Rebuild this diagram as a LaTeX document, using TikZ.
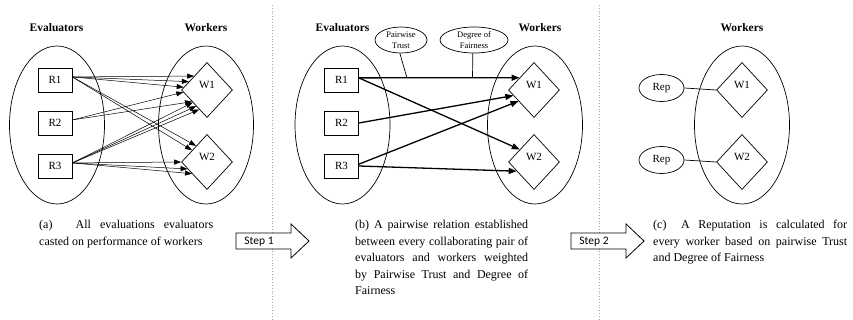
\documentclass[tikz,border=0pt]{standalone}
\usepackage{fontspec}
\setmainfont{Liberation Serif}
\newfontfamily\stepfont{Carlito}
\usetikzlibrary{arrows.meta,shapes.geometric,calc}
\begin{document}
\begin{tikzpicture}[x=1pt,y=-1pt,
 grp/.style={draw,ellipse,minimum width=95pt,minimum height=158pt,inner sep=0pt,line width=0.7pt},
 rbox/.style={draw,rectangle,minimum width=34pt,minimum height=24pt,inner sep=0pt,line width=0.7pt,font=\fontsize{11}{13}\selectfont},
 wdia/.style={draw,diamond,aspect=0.93,minimum width=51pt,minimum height=55pt,inner sep=0pt,line width=0.7pt,text height=8pt,text depth=10.5pt,font=\fontsize{11}{13}\selectfont},
 hdr/.style={font=\fontsize{11.5}{14}\selectfont\bfseries,inner sep=0pt},
 thinarr/.style={line width=0.5pt,-{Triangle[length=7pt,width=5pt]}},
 thickarr/.style={line width=1.3pt,-{Triangle[length=8pt,width=6pt]}},
 note/.style={draw,ellipse,inner sep=0pt,line width=0.7pt,align=center,font=\fontsize{8.5}{10.5}\selectfont},
 rep/.style={draw,ellipse,minimum width=45pt,minimum height=27pt,inner sep=0pt,line width=0.7pt,font=\fontsize{11}{13}\selectfont},
 captext/.style={anchor=base west,inner sep=0pt,font=\fontsize{12}{16.5}\selectfont},
 sepline/.style={black!35,dotted,line width=0.8pt},
 stepshape/.style={draw,line width=0.8pt,fill=white},
 steptext/.style={inner sep=0pt,font=\stepfont\fontsize{11.5}{13}\selectfont},
 plain/.style={line width=0.7pt},
]
\useasboundingbox (0,0) rectangle (853,320);

% separators
\coordinate (s1t) at (272,5); \coordinate (s1b) at (272,320);
\coordinate (s2t) at (599,5); \coordinate (s2b) at (599,320);
\draw[sepline] (s1t) -- (s1b);
\draw[sepline] (s2t) -- (s2b);

% ---------- panel (a)
\node[hdr] (Ea) at (56.5,28) {Evaluators};
\node[hdr] (Wa) at (206,28) {Workers};
\node[grp] (Ga) at (57,125) {};
\node[grp] (Ha) at (206,125) {};
\node[rbox] (R1a) at (55,80) {R1};
\node[rbox] (R2a) at (55,123) {R2};
\node[rbox] (R3a) at (55,166) {R3};
\node[wdia] (W1a) at (207,90) {W1};
\node[wdia] (W2a) at (207,162) {W2};

\draw[thinarr] (R1a.10) -- ($(W1a.west)!0.5!(W1a.north)$);
\draw[thinarr] (R1a.10) -- ($(W1a.west)!0.3!(W1a.north)$);
\draw[thinarr] (R1a.10) -- ($(W1a.west)!0.1!(W1a.north)$);
\draw[thinarr] (R1a.10) -- ($(W2a.west)!0.42!(W2a.north)$);
\draw[thinarr] (R1a.10) -- ($(W2a.west)!0.58!(W2a.north)$);
\draw[thinarr] (R2a.10) -- ($(W1a.west)!0.08!(W1a.south)$);
\draw[thinarr] (R2a.10) -- ($(W1a.west)!0.42!(W1a.south)$);
\draw[thinarr] (R3a.10) -- ($(W1a.west)!0.45!(W1a.south)$);
\draw[thinarr] (R3a.10) -- ($(W1a.west)!0.58!(W1a.south)$);
\draw[thinarr] (R3a.10) -- ($(W1a.west)!0.7!(W1a.south)$);
\draw[thinarr] (R3a.10) -- (W2a.west);
\draw[thinarr] (R3a.10) -- ($(W2a.west)!0.25!(W2a.south)$);
\draw[thinarr] (R3a.10) -- ($(W2a.west)!0.42!(W2a.south)$);

\node[captext] (capa) at (39,229) {\parbox[t]{174pt}{\makebox[174pt][s]{(a)\hspace{14pt} All evaluations evaluators}\\casted on performance of workers}};

% step 1
\coordinate (st1a) at (236,233); \coordinate (st1b) at (291,233); \coordinate (st1c) at (291,224);
\coordinate (st1d) at (309,241); \coordinate (st1e) at (291,258); \coordinate (st1f) at (291,249);
\coordinate (st1g) at (236,249);
\draw[stepshape] (st1a) -- (st1b) -- (st1c) -- (st1d) -- (st1e) -- (st1f) -- (st1g) -- cycle;
\node[steptext] (step1) at (259,242) {Step 1};

% ---------- panel (b)
\node[hdr] (Eb) at (342.5,28) {Evaluators};
\node[hdr] (Wb) at (540,28) {Workers};
\node[grp] (Gb) at (342.5,125) {};
\node[grp] (Hb) at (535,125) {};
\node[rbox] (R1b) at (341.5,80) {R1};
\node[rbox] (R2b) at (341.5,123) {R2};
\node[rbox] (R3b) at (341.5,166) {R3};
\node[wdia] (W1b) at (534,90) {W1};
\node[wdia] (W2b) at (534,162) {W2};
\node[note,minimum width=52pt,minimum height=26pt] (PT) at (401,40) {Pairwise\\Trust};
\node[note,minimum width=68pt,minimum height=26pt] (DF) at (474,40) {Degree of\\Fairness};

\draw[thickarr] (R1b.7) -- ($(W1b.west)!0.44!(W1b.north)$);
\draw[thickarr] (R1b.7) -- ($(W2b.west)!0.45!(W2b.north)$);
\draw[thickarr] (R2b.east) -- ($(W1b.west)!0.2!(W1b.south)$);
\draw[thickarr] (R3b.6) -- ($(W1b.west)!0.4!(W1b.south)$);
\draw[thickarr] (R3b.east) -- ($(W2b.west)!0.33!(W2b.south)$);
\coordinate (ptj) at (407,78);
\coordinate (dfj) at (472.5,78);
\draw[plain] (PT.-95) -- (ptj);
\draw[plain] (DF.-95) -- (dfj);

\node[captext] (capb) at (355,229) {\parbox[t]{173pt}{\makebox[173pt][s]{(b) A pairwise relation established}\\
\makebox[173pt][s]{between every collaborating pair of}\\
\makebox[173pt][s]{evaluators and workers weighted}\\
\makebox[173pt][s]{by Pairwise Trust and Degree of}\\
Fairness}};

% step 2
\coordinate (st2a) at (571,233); \coordinate (st2b) at (626,233); \coordinate (st2c) at (626,224);
\coordinate (st2d) at (644,241); \coordinate (st2e) at (626,258); \coordinate (st2f) at (626,249);
\coordinate (st2g) at (571,249);
\draw[stepshape] (st2a) -- (st2b) -- (st2c) -- (st2d) -- (st2e) -- (st2f) -- (st2g) -- cycle;
\node[steptext] (step2) at (594,242) {Step 2};

% ---------- panel (c)
\node[hdr] (Wc) at (742,28) {Workers};
\node[grp] (Hc) at (742,125) {};
\node[wdia] (W1c) at (742,90) {W1};
\node[wdia] (W2c) at (742,162) {W2};
\node[rep] (Rep1) at (661.5,88) {Rep};
\node[rep] (Rep2) at (661.5,160) {Rep};
\draw[plain] (Rep1.east) -- (W1c.west);
\draw[plain] (Rep2.east) -- (W2c.west);

\node[captext] (capc) at (653,229) {\parbox[t]{194pt}{\makebox[194pt][s]{(c)\hspace{6pt} A Reputation is calculated for}\\
\makebox[194pt][s]{every worker based on pairwise Trust}\\
and Degree of Fairness}};
\end{tikzpicture}
\end{document}
